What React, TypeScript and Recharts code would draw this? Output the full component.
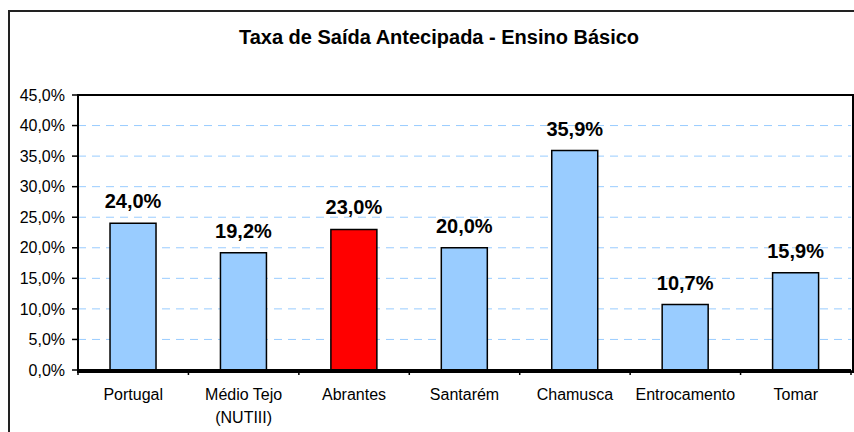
import { Bar, BarChart, CartesianGrid, Cell, LabelList, XAxis, YAxis } from "recharts";

const categories = ["Portugal", "Médio Tejo\n(NUTIII)", "Abrantes", "Santarém", "Chamusca", "Entrocamento", "Tomar"];
const rates = [24.0, 19.2, 23.0, 20.0, 35.9, 10.7, 15.9];
const highlighted = ["Abrantes"];
const yTicks = [0, 5, 10, 15, 20, 25, 30, 35, 40, 45];

const data = categories.map((name, i) => ({ name, value: rates[i] }));

const W = 854;
const H = 432;
const PLOT_LEFT = 78;
const PLOT_TOP = 95;
const PLOT_RIGHT = 851;
const PLOT_BOTTOM = 370;
const band = (PLOT_RIGHT - PLOT_LEFT) / categories.length;

const pct = (v: number) => v.toFixed(1).replace(".", ",") + "%";

function CategoryTick(props: any) {
  const { x, y, payload, index } = props;
  const lines = String(payload.value).split("\n");
  const left = x - band / 2;
  return (
    <g>
      <line x1={left} y1={y - 8} x2={left} y2={y - 3} stroke="#000" strokeWidth={1.5} />
      {index === categories.length - 1 && (
        <line x1={left + band} y1={y - 8} x2={left + band} y2={y - 3} stroke="#000" strokeWidth={1.5} />
      )}
      {lines.map((l, i) => (
        <text key={i} x={x} y={y + 22 + i * 23} textAnchor="middle" fill="#000" fontSize={16}>
          {l}
        </text>
      ))}
    </g>
  );
}

export default function App() {
  return (
    <div
      style={{
        position: "absolute",
        left: 0,
        top: 0,
        width: W,
        height: H,
        overflow: "hidden",
        background: "#fff",
        fontFamily: "'Liberation Sans', Arial, sans-serif",
      }}
    >
      <div
        style={{
          position: "absolute",
          left: 8,
          top: 10,
          width: 900,
          height: 500,
          borderLeft: "2px solid #222",
          borderTop: "2px solid #222",
        }}
      />
      <div
        style={{
          position: "absolute",
          left: 0,
          top: 26,
          width: 878,
          textAlign: "center",
          fontWeight: "bold",
          fontSize: 20,
          lineHeight: "23px",
        }}
      >
        Taxa de Saída Antecipada - Ensino Básico
      </div>
      <div style={{ position: "absolute", left: 0, top: 0 }}>
        <BarChart
          width={W}
          height={H}
          data={data}
          margin={{ top: PLOT_TOP, right: W - PLOT_RIGHT, bottom: 0, left: 0 }}
          barCategoryGap="29%"
          style={{ fontFamily: "'Liberation Sans', Arial, sans-serif" }}
        >
          <CartesianGrid vertical={false} stroke="#99ccff" strokeDasharray="8 6" />
          <XAxis
            dataKey="name"
            height={H - PLOT_BOTTOM}
            interval={0}
            tickLine={false}
            axisLine={{ stroke: "#000", strokeWidth: 2 }}
            tick={<CategoryTick />}
          />
          <YAxis
            width={PLOT_LEFT}
            domain={[0, 45]}
            ticks={yTicks}
            tickFormatter={pct}
            tickSize={6}
            tickMargin={7}
            tickLine={{ stroke: "#000", strokeWidth: 1.5 }}
            axisLine={{ stroke: "#000", strokeWidth: 2 }}
            tick={{ fill: "#000", fontSize: 16 }}
          />
          <Bar dataKey="value" stroke="#000" strokeWidth={1.5} isAnimationActive={false}>
            {data.map((d) => (
              <Cell key={d.name} fill={highlighted.includes(d.name) ? "#ff0000" : "#99ccff"} />
            ))}
            <LabelList
              dataKey="value"
              position="top"
              offset={15}
              formatter={(v: any) => pct(Number(v))}
              style={{ fontWeight: "bold", fontSize: 20, fill: "#000" }}
            />
          </Bar>
        </BarChart>
      </div>
      <div
        style={{
          position: "absolute",
          left: PLOT_LEFT - 1,
          top: PLOT_TOP - 1,
          width: PLOT_RIGHT - PLOT_LEFT,
          height: PLOT_BOTTOM - PLOT_TOP,
          border: "2px solid #000",
          pointerEvents: "none",
        }}
      />
    </div>
  );
}
